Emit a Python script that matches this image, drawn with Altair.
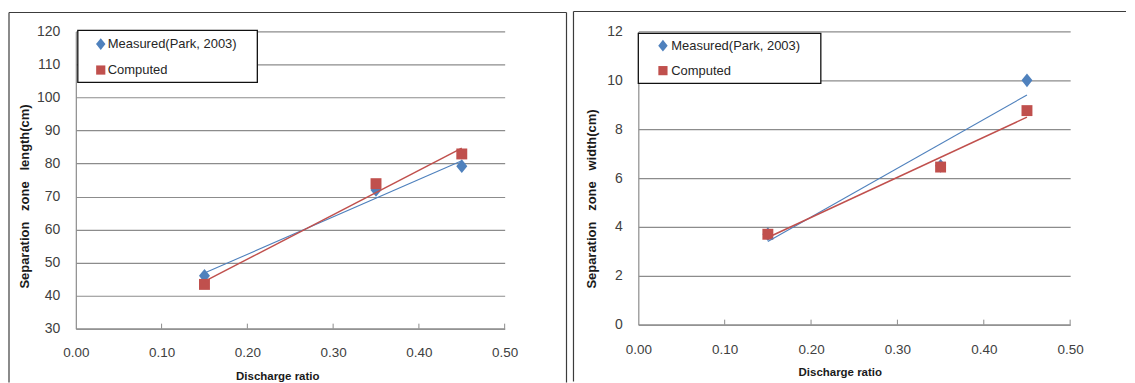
import altair as alt
import pandas as pd

# ---------------- data ----------------
ratio = [0.15, 0.35, 0.45]
series_names = ["Measured(Park, 2003)", "Computed"]
len_measured = [46.0, 72.0, 79.2]
len_computed = [43.4, 73.9, 82.9]
wid_measured = [3.7, 6.5, 10.0]
wid_computed = [3.7, 6.45, 8.76]
x_ticks = [0.0, 0.1, 0.2, 0.3, 0.4, 0.5]
x_minor = [0.1, 0.2, 0.3, 0.4, 0.5]
len_ticks = [30, 40, 50, 60, 70, 80, 90, 100, 110, 120]
wid_ticks = [0, 2, 4, 6, 8, 10, 12]

BLUE = "#4F81BD"
RED = "#C0504D"
GRID = "#8c8c8c"
FRAME = "#3c3c3c"
DIAMOND = "M0,-1L0.8,0L0,1L-0.8,0Z"
FONT = "Liberation Sans"
NB = "\u00a0"


def panel(measured, computed, ydomain, yticks, ytitle, W, H, geo):
    df = pd.DataFrame({
        "ratio": ratio + ratio,
        "value": measured + computed,
        "series": [series_names[0]] * len(ratio) + [series_names[1]] * len(ratio),
    })
    xenc = alt.X(
        "ratio:Q",
        scale=alt.Scale(domain=[0, 0.5], nice=False),
        axis=alt.Axis(
            values=x_ticks, format=".2f", grid=False, domain=True,
            domainColor=GRID, domainWidth=1.2, ticks=False, labelPadding=geo["xlp"],
            labelFontSize=13.5, labelColor="#404040", labelFlush=False,
            labelFont=FONT, title="Discharge ratio", titleFont=FONT,
            titleFontSize=11.5, titleFontWeight="bold", titleColor="#1a1a1a",
            titleX=202, titleY=geo["xty"],
        ),
    )
    yenc = alt.Y(
        "value:Q",
        scale=alt.Scale(domain=ydomain, nice=False, zero=False),
        axis=alt.Axis(
            values=yticks, grid=True, gridColor=GRID, gridWidth=1.2,
            domain=True, domainColor=GRID, domainWidth=1.2, ticks=False, labelPadding=16,
            labelFontSize=14, labelColor="#404040", labelFont=FONT,
            labelFlush=False, title=ytitle, titleFont=FONT, titleFontSize=13,
            titleFontWeight="bold", titleColor="#1a1a1a",
            titleX=geo["ytx"], titleY=geo["yty"],
        ),
    )
    base = alt.Chart(df).encode(x=xenc, y=yenc)
    meas = base.transform_filter(alt.datum.series == series_names[0])
    comp = base.transform_filter(alt.datum.series == series_names[1])

    pts_m = meas.mark_point(shape=DIAMOND, filled=True, size=190, color=BLUE, opacity=1)
    pts_c = comp.mark_square(size=120, color=RED, opacity=1)
    line_m = meas.transform_regression("ratio", "value").mark_line(color=BLUE, strokeWidth=1.1)
    line_c = comp.transform_regression("ratio", "value").mark_line(color=RED, strokeWidth=1.5)

    ticks = alt.Chart(pd.DataFrame({"ratio": x_minor})).mark_rule(
        color=GRID, strokeWidth=1
    ).encode(x="ratio:Q", y=alt.value(H - 5), y2=alt.value(H))

    one = pd.DataFrame({"a": [0]})
    decor = []
    # frame around the panel
    decor.append(alt.Chart(one).mark_rule(color=FRAME, strokeWidth=1.2).encode(
        x=alt.value(geo["fl"]), x2=alt.value(geo["fr"]),
        y=alt.value(geo["ft"]), y2=alt.value(geo["ft"])))
    decor.append(alt.Chart(one).mark_rule(color=FRAME, strokeWidth=1.2).encode(
        x=alt.value(geo["fl"]), y=alt.value(geo["ft"]), y2=alt.value(geo["fb"])))
    if geo.get("right_edge"):
        decor.append(alt.Chart(one).mark_rule(color=FRAME, strokeWidth=1.2).encode(
            x=alt.value(geo["fr"]), y=alt.value(geo["ft"]), y2=alt.value(geo["fb"])))

    # legend box
    lg = geo["lg"]
    legend = [
        alt.Chart(one).mark_rect(fill="white", stroke="#111111", strokeWidth=1.3).encode(
            x=alt.value(lg[0]), x2=alt.value(lg[1]), y=alt.value(lg[2]), y2=alt.value(lg[3])),
        alt.Chart(one).mark_point(shape=DIAMOND, filled=True, size=140, color=BLUE, opacity=1).encode(
            x=alt.value(geo["sx"]), y=alt.value(geo["r1"])),
        alt.Chart(one).mark_square(size=85, color=RED, opacity=1).encode(
            x=alt.value(geo["sx"]), y=alt.value(geo["r2"])),
        alt.Chart(one).mark_text(align="left", baseline="middle", font=FONT, fontSize=13,
                                 color="#262626").encode(
            x=alt.value(geo["tx"]), y=alt.value(geo["r1"]), text=alt.value(series_names[0])),
        alt.Chart(one).mark_text(align="left", baseline="middle", font=FONT, fontSize=13,
                                 color="#262626").encode(
            x=alt.value(geo["tx"]), y=alt.value(geo["r2"]), text=alt.value(series_names[1])),
    ]

    return alt.layer(*decor, ticks, pts_m, pts_c, line_m, line_c, *legend).properties(
        width=W, height=H)


left = panel(
    len_measured, len_computed, [30, 120], len_ticks,
    "Separation" + NB * 3 + "zone" + NB * 3 + "length(cm)", 430, 298,
    dict(xlp=17, xty=42, ytx=-44, yty=165, fl=-67, fr=492, ft=-19, fb=352,
         right_edge=True, lg=(2, 182, -1, 51), sx=25, r1=12.7, r2=38.7, tx=32),
)
right = panel(
    wid_measured, wid_computed, [0, 12], wid_ticks,
    "Separation" + NB * 3 + "zone" + NB * 3 + "width(cm)", 433, 294,
    dict(xlp=18, xty=42, ytx=-40, yty=167.5, fl=-65, fr=489, ft=-20, fb=351,
         right_edge=False, lg=(0, 183, 2, 52), sx=24.7, r1=14.3, r2=39.3, tx=33),
)

chart = alt.hconcat(left, right, spacing=5).properties(
    padding={"left": 0, "top": 2, "right": 0, "bottom": 0},
    background="white",
).configure_view(stroke=None)

chart.save("out.html", embed_options={"renderer": "svg", "actions": False})
